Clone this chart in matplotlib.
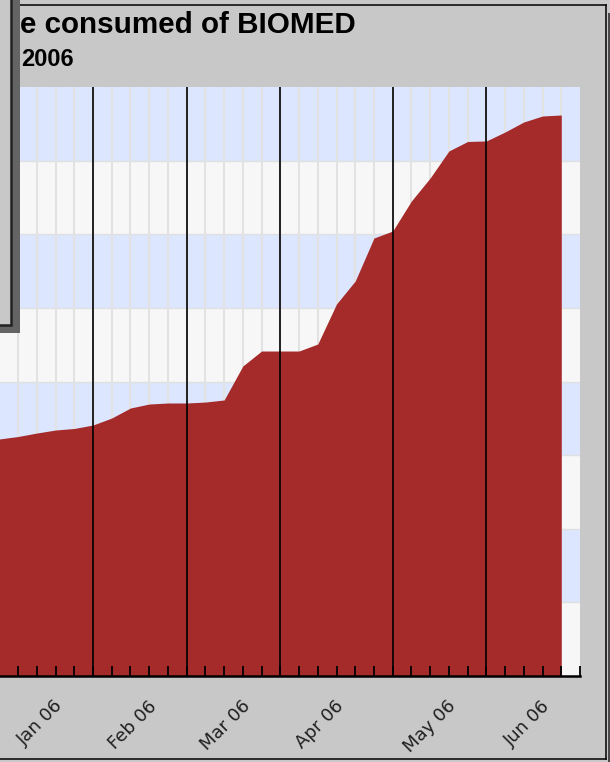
import matplotlib
matplotlib.use("Agg")
import matplotlib.pyplot as plt
from matplotlib.patches import Rectangle
from matplotlib.lines import Line2D

# ---- data ----
weeks = list(range(31))
values = [3219, 3253, 3300, 3341, 3362, 3409, 3504, 3640, 3694, 3708,
          3708, 3721, 3749, 4211, 4414, 4414, 4414, 4509, 5053, 5365,
          5949, 6044, 6452, 6764, 7131, 7260, 7267, 7389, 7525, 7606, 7620]
month_labels = ["Jan 06", "Feb 06", "Mar 06", "Apr 06", "May 06", "Jun 06"]
month_weeks = [0, 5, 10, 15, 21, 26]
title_text = "e consumed of BIOMED"
subtitle_text = "2006"

W, H = 610, 762
BG = "#c8c8c8"
AREA = "#a52a2a"
BLUE = "#dce6ff"
WHITE = "#f7f7f7"

def fx(x):
    return x / W

def fy(y):
    return 1 - y / H

fig = plt.figure(figsize=(W / 100, H / 100), dpi=100, facecolor=BG)

x_left, x_right = -0.65, 580.0
y_top, y_bot = 87.0, 676.0
ax = fig.add_axes([fx(x_left), fy(y_bot), (x_right - x_left) / W, (y_bot - y_top) / H])
ax.set_xlim(0, 31)
ax.set_ylim(0, 8000)
ax.set_facecolor(WHITE)

# background bands
for i in range(8):
    ax.axhspan(i * 1000, (i + 1) * 1000, color=(BLUE if i % 2 else WHITE), zorder=0, lw=0)
for i in range(1, 8):
    ax.axhline(i * 1000, color="#e0e0e0", lw=1.0, zorder=0.5)
for w in range(1, 31):
    ax.axvline(w, color="#e2e2e2", lw=1.5, zorder=0.6)

# area
ax.fill_between(weeks, values, 0, color=AREA, lw=0, zorder=2)

# month lines
for mw in month_weeks[1:]:
    ax.axvline(mw, color="black", lw=1.2, zorder=3)

for s in ["top", "left", "right"]:
    ax.spines[s].set_visible(False)
ax.spines["bottom"].set_color("black")
ax.spines["bottom"].set_linewidth(1.8)
ax.spines["bottom"].set_zorder(6)
ax.xaxis.set_zorder(5)
ax.set_yticks([])
ax.set_xticks(range(0, 32))
ax.tick_params(axis="x", direction="in", length=7.2, width=1.3, color="black",
               labelbottom=False)

for lab, mw in zip(month_labels, month_weeks):
    ax.text(mw + 2.9, (y_bot - 697) / (y_bot - y_top), lab,
            transform=ax.get_xaxis_transform(), rotation=45,
            rotation_mode="anchor", ha="right", va="top",
            fontsize=13, color="#202020", family="DejaVu Sans")

# titles
fig.text(fx(20), fy(33), title_text, fontsize=21.3, fontweight="bold",
         family="Liberation Sans", ha="left", va="baseline", color="black", zorder=3)
fig.text(fx(21), fy(66), subtitle_text, fontsize=17, fontweight="bold",
         family="Liberation Sans", ha="left", va="baseline", color="black", zorder=3)

# outer frame
lw_px = 1.1
fig.add_artist(Line2D([fx(0), fx(605.5)], [fy(4.5), fy(4.5)], color="black", lw=lw_px, zorder=4))
fig.add_artist(Line2D([fx(605.5), fx(605.5)], [fy(4.5), fy(758.5)], color="black", lw=lw_px, zorder=4))
fig.add_artist(Line2D([fx(0), fx(605.5)], [fy(758.5), fy(758.5)], color="black", lw=lw_px, zorder=4))
fig.add_artist(Rectangle((fx(607.5), fy(762)), fx(3), (762 - 13) / H,
                         transform=fig.transFigure, color="#4a4a4a", lw=0, zorder=4))

# legend box (partially visible) with shadow
fig.add_artist(Rectangle((fx(-50), fy(333)), fx(70), (333 + 50) / H,
                         transform=fig.transFigure, facecolor="#646464", lw=0, zorder=9))
fig.add_artist(Rectangle((fx(-50), fy(324.5)), fx(60.5), (324.5 + 50) / H,
                         transform=fig.transFigure, facecolor=BG, edgecolor="#222222",
                         lw=1.8, zorder=10))

fig.savefig("out.png", dpi=100, facecolor=BG)
